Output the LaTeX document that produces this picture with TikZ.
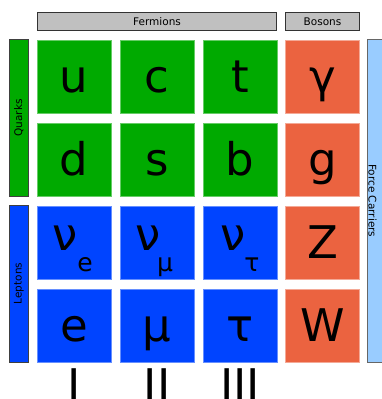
\documentclass[tikz,border=0pt]{standalone}
\usepackage{fontspec}
\setmainfont{DejaVu Sans}
\usetikzlibrary{calc}
\definecolor{qgreen}{RGB}{0,170,0}
\definecolor{lblue}{RGB}{0,68,255}
\definecolor{borange}{RGB}{235,99,64}
\definecolor{fcblue}{RGB}{153,204,255}
\definecolor{hgray}{RGB}{192,192,192}
\tikzset{
  cell/.style={minimum width=74, minimum height=73, inner sep=0, line width=0.6pt},
  qcell/.style={cell, fill=qgreen, draw=qgreen!60!white},
  lcell/.style={cell, fill=lblue, draw=lblue!60!white},
  bcell/.style={cell, fill=borange, draw=borange!55!white},
  big/.style={font=\fontsize{45}{54}\selectfont, anchor=base, inner sep=0},
  sub/.style={font=\fontsize{25}{30}\selectfont, anchor=base, inner sep=0},
  hdr/.style={fill=hgray, draw=black!80, line width=0.8pt, inner sep=0},
  lab/.style={font=\fontsize{10.5}{12}\selectfont, inner sep=0},
}
\begin{document}
\begin{tikzpicture}[x=1pt,y=-1pt]
\useasboundingbox (0,0) rectangle (381,399);
% headers
\node[hdr, minimum width=239.5, minimum height=18.5] (ferm) at (157,21.5) {};
\node[lab] (fermt) at (ferm.center) {Fermions};
\node[hdr, minimum width=74, minimum height=18.5] (bos) at (322.5,21.5) {};
\node[lab] (bost) at (bos.center) {Bosons};
% side labels
\node[fill=qgreen, draw=black!75, line width=0.8pt, minimum width=19, minimum height=156.5, inner sep=0] (qk) at (18.8,118) {};
\node[lab, rotate=90] (qkt) at (qk.center) {Quarks};
\node[fill=lblue, draw=black!75, line width=0.8pt, minimum width=19, minimum height=157, inner sep=0] (lp) at (18.8,283.5) {};
\node[lab, rotate=90] (lpt) at (lp.center) {Leptons};
\node[fill=fcblue, draw=black!60, line width=0.8pt, minimum width=19, minimum height=322.5, inner sep=0] (fc) at (377,200.8) {};
\node[lab, rotate=-90] (fct) at (372.5,200.8) {Force Carriers};
% cells
\node[qcell] (u) at (74,76.5) {};
\node[qcell] (c) at (157,76.5) {};
\node[qcell] (t) at (240,76.5) {};
\node[bcell] (ga) at (322.5,76.5) {};
\node[qcell] (d) at (74,159.5) {};
\node[qcell] (s) at (157,159.5) {};
\node[qcell] (b) at (240,159.5) {};
\node[bcell] (g) at (322.5,159.5) {};
\node[lcell] (ne) at (74,242.5) {};
\node[lcell] (nm) at (157,242.5) {};
\node[lcell] (nt) at (240,242.5) {};
\node[bcell] (Z) at (322.5,242.5) {};
\node[lcell] (e) at (74,325.5) {};
\node[lcell] (m) at (157,325.5) {};
\node[lcell] (ta) at (240,325.5) {};
\node[bcell] (W) at (322.5,325.5) {};
% letters
\node[big] (ut) at ($(u.north)+(0,53)$) {u};
\node[big] (ct) at ($(c.north)+(0,53)$) {c};
\node[big] (tt) at ($(t.north)+(0,53)$) {t};
\node[big] (gat) at ($(ga.north)+(0,53)$) {γ};
\node[big] (dt) at ($(d.north)+(0,53)$) {d};
\node[big] (st) at ($(s.north)+(0,53)$) {s};
\node[big] (bt) at ($(b.north)+(0,53)$) {b};
\node[big] (gt) at ($(g.north)+(0,53)$) {g};
\node[big] (net) at ($(ne.north)+(-9,45)$) {ν};
\node[sub] (nes) at ($(ne.north)+(11,66)$) {e};
\node[big] (nmt) at ($(nm.north)+(-8.5,45)$) {ν};
\node[sub] (nms) at ($(nm.north)+(8,66)$) {μ};
\node[big] (ntt) at ($(nt.north)+(-7,45)$) {ν};
\node[sub] (nts) at ($(nt.north)+(12,66)$) {τ};
\node[big] (Zt) at ($(Z.north)+(0,53)$) {Z};
\node[big] (et) at ($(e.north)+(0,53)$) {e};
\node[big] (mt) at ($(m.north)+(0,53)$) {μ};
\node[big] (tat) at ($(ta.north)+(0,53)$) {τ};
\node[big] (Wt) at ($(W.north)+(0,53)$) {W};
% generations
\node[big] (g1) at (74.5,401) {I};
\node[big] (g2) at (157,401) {II};
\node[big] (g3) at (240,401) {III};
\end{tikzpicture}
\end{document}
